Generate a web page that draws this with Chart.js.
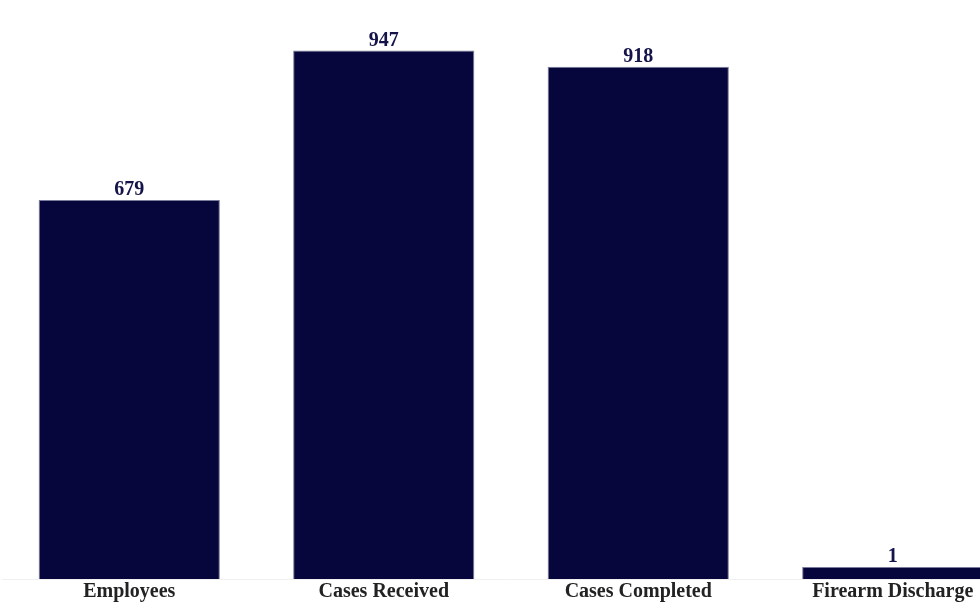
<!DOCTYPE html>
<html>
<head>
<meta charset="utf-8">
<script src="https://cdn.jsdelivr.net/npm/chart.js@4/dist/chart.umd.min.js"></script>
<style>
  html, body { margin: 0; padding: 0; background: #fff; overflow: hidden; }
  #wrap { position: absolute; left: 0; top: 0; width: 1030px; height: 604px; }
</style>
</head>
<body>
<div id="wrap"><canvas id="myChart"></canvas></div>
<script>
var categories = ['Employees', 'Cases Received', 'Cases Completed', 'Firearm Discharge'];
var counts = [679, 947, 918, 1];
var yTicks = [0, 1000];

var barColor = '#06063D';
var serif = '"Liberation Serif", "Times New Roman", serif';

// writes the count above each bar
var valueLabels = {
    id: 'valueLabels',
    afterDatasetsDraw: function (chart) {
        let ctx = chart.ctx;
        let meta = chart.getDatasetMeta(0);
        ctx.save();
        ctx.font = 'bold 20px ' + serif;
        ctx.fillStyle = '#14144a';
        ctx.textAlign = 'center';
        ctx.textBaseline = 'alphabetic';
        meta.data.forEach(function (bar, i) {
            ctx.fillText(String(counts[i]), bar.x, bar.y - 5);
        });
        ctx.restore();
    }
};

let ctx = document.getElementById('myChart').getContext('2d');
let myChart = new Chart(ctx, {
    type: 'bar',
    data: {
        labels: categories,
        datasets: [{
            data: counts,
            backgroundColor: barColor,
            borderColor: '#7a7a9a',
            borderWidth: 1,
            minBarLength: 12,
            barPercentage: 0.8,
            categoryPercentage: 0.89
        }]
    },
    options: {
        responsive: true,
        maintainAspectRatio: false,
        animation: false,
        layout: { padding: { left: 2, right: 10, top: 21, bottom: 0 } },
        plugins: {
            legend: { display: false },
            tooltip: { enabled: false }
        },
        scales: {
            x: {
                grid: { display: false, drawTicks: false },
                border: { display: true, color: '#f0f0f0' },
                ticks: {
                    color: '#222',
                    padding: 1,
                    font: { family: serif, size: 20, weight: 'bold', lineHeight: 1.15 }
                }
            },
            y: {
                display: false,
                min: yTicks[0],
                max: yTicks[1]
            }
        }
    },
    plugins: [valueLabels]
});
</script>
</body>
</html>
